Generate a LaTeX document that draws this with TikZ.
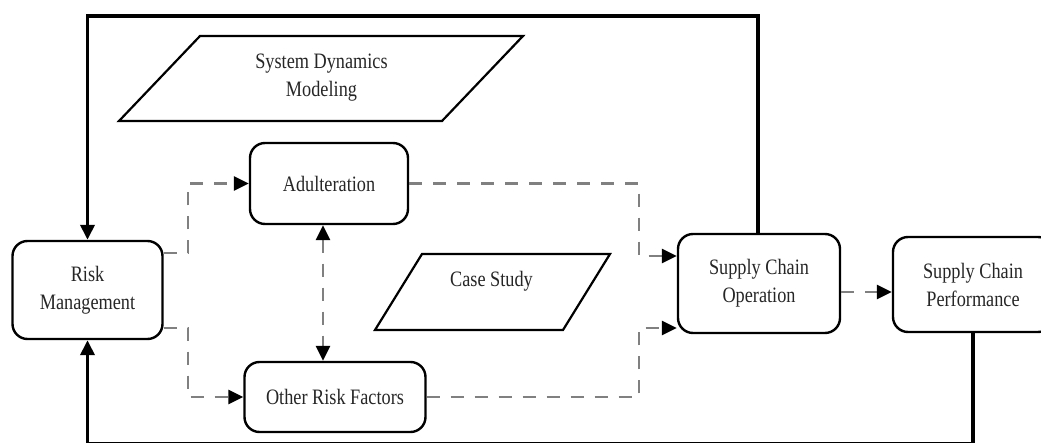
\documentclass[tikz,border=0pt]{standalone}
\usepackage{fontspec}
\setmainfont{Liberation Serif}
\usepackage{graphicx}
\usetikzlibrary{arrows.meta,calc}
\newcommand{\sq}[1]{\scalebox{0.83}[1]{#1}}
\begin{document}
\begin{tikzpicture}[x=1pt,y=-1pt,
  box/.style={draw=black,line width=2.4pt,rounded corners=15pt,inner sep=0pt,align=center,
    font=\fontsize{22}{28}\selectfont,text=black!85},
  lbl/.style={inner sep=0pt,align=center,font=\fontsize{22}{28}\selectfont,text=black!85},
  para/.style={draw=black,line width=2.2pt,line join=miter},
  fb/.style={line width=3.6pt,draw=black},
  dsh/.style={line width=2.6pt,draw=black!50,dash pattern=on 13pt off 11pt},
  tip/.style={-{Triangle[length=15pt 0 0,width=14pt 0 0,color=black]}},
  tips/.style={{Triangle[length=15pt 0 0,width=14pt 0 0,color=black]}-{Triangle[length=15pt 0 0,width=14pt 0 0,color=black]}},
]
\useasboundingbox (0,0) rectangle (1041,443);

% nodes
\node[box,minimum width=150pt,minimum height=98pt] (RM) at (87.5,290) {\sq{Risk}\\\sq{Management}};
\node[box,minimum width=158pt,minimum height=81pt] (AD) at (329,183.5) {\sq{Adulteration}};
\node[box,minimum width=181pt,minimum height=70pt] (ORF) at (335,397) {\sq{Other Risk Factors}};
\node[box,minimum width=162pt,minimum height=99pt] (SCO) at (759,283.5) {\sq{Supply Chain}\\\sq{Operation}};
\node[box,minimum width=160pt,minimum height=95pt] (SCP) at (973,284.5) {\sq{Supply Chain}\\\sq{Performance}};

% parallelograms
\draw[para] (200,36) -- (523,36) -- (442,121) -- (119,121) -- cycle;
\node[lbl] (SDM) at (321.5,78) {\sq{System Dynamics}\\\sq{Modeling}};
\draw[para] (422,254) -- (610,254) -- (563,330) -- (375,330) -- cycle;
\node[lbl] (CS) at (491.5,281) {\sq{Case Study}};

% feedback loops
\coordinate (tr) at (758,16);
\coordinate (tl) at (87.5,16);
\draw[fb,line join=miter,tip] (SCO.north -| tr) -- (tr) -- (tl) -- (RM.north);
\coordinate (br) at (973,444.2);
\coordinate (bl) at (87.5,444.2);
\draw[fb,line join=miter,tip] (SCP.south) -- (br) -- (bl) -- (RM.south);

% dashed connectors
\draw[dsh,tip] (RM.east |- 0,253) -- (188,253) |- (AD.west);
\draw[dsh,tip] (RM.east |- 0,328) -- (188,328) |- (ORF.west);
\draw[dsh,tip] (AD.east) -- (639,183.5) |- (SCO.west |- 0,256);
\draw[dsh,tip] (ORF.east) -- (639,397) |- (SCO.west |- 0,328);
\draw[dsh,tips] (AD.south -| 323,0) -- (ORF.north -| 323,0);
\draw[dsh,tip] (SCO.east |- 0,292) -- (SCP.west |- 0,292);
\end{tikzpicture}
\end{document}
